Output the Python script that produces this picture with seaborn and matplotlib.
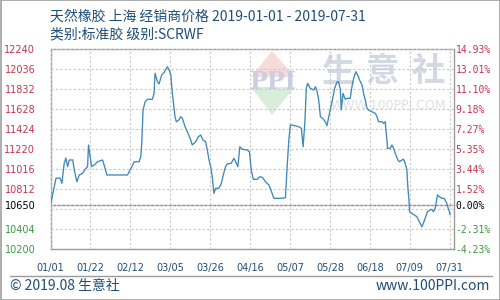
import matplotlib
matplotlib.use("Agg")
import matplotlib.pyplot as plt
from matplotlib.patches import Rectangle, Polygon
from matplotlib.lines import Line2D
import seaborn as sns
import pandas as pd

# ---- data ----
days = [0, 2.9, 5, 6, 7.2, 8.1, 9, 9.9, 11.7, 12.5, 13.9, 15.1, 16.9, 18.6, 19.5, 20, 20.9, 21.6, 23, 24.8,
        27.4, 28.2, 29.7, 30.9, 40.5, 41.9,
        42.8, 44, 46.6, 47.5, 48, 48.7, 49.8, 51, 53.6, 54.5, 55, 56.3, 57.1, 58.5, 59.7, 61.5, 62.4, 63.3, 64.1, 65.5,
        66.2, 67.5, 68.5, 69.4, 70.8, 72, 73.8, 74.6, 76.4, 77.8, 79, 80.2, 81.6,
        82.5, 83.4, 84.3, 85.1, 86, 86.9, 88.6, 89.9, 90.9, 92.1, 93, 95.1, 96.5, 97.4, 98.6, 99.6, 100.9, 103.5, 104.7, 105.6,
        106.7, 108.8, 110.1, 111.5, 113.1, 114.9, 116.1, 117.5, 121,
        123.6, 124.5, 125.4, 126.2, 127.1, 130.6, 132, 132.9, 133.8, 134.6, 135.3, 136.7, 138.5, 139.4, 140.3, 141.1, 142,
        143.2, 144.6, 145.5, 146.4, 148.1, 149.5, 150.8, 151.6, 152.5, 153, 153.9, 155.1, 156, 157.7, 158.6, 159.5, 160.7,
        161.6, 162.6, 163.9, 164.7, 165.6, 166.5, 167.3, 169.1, 170.9, 171.8, 172.6, 174.4, 175.2, 176.1, 177, 177.3,
        178.7, 179.6, 180.5, 181.7, 182.8, 183.6, 184.9, 185.7, 186.6, 187.5, 188, 188.6, 188.9, 190.1, 191.3, 192.8,
        193.6, 194.5, 195.4, 196.2, 197.1, 198.3, 199.7, 200.6, 201.5, 202.4, 203.6, 204.6, 205.9, 207.1, 208.5, 209,
        209.9, 210.2]
prices = [10650, 10921, 10924, 10870, 11074, 11128, 11040, 11108, 11108, 11006, 10886, 10955, 10972, 11023, 11040,
          11261, 11141, 11040, 11057, 11090, 11108, 11057, 10955, 10955, 10955, 11006,
          11040, 11090, 11090, 11141, 11278, 11618, 11702, 11727, 11727, 11788, 11992, 11906, 11883, 11975, 11998, 12059,
          12026, 11975, 11788, 11549, 11498, 11516, 11549, 11533, 11447, 11396, 11312, 11261, 11294, 11345, 11363, 11312, 11294,
          11210, 11108, 11040, 10937, 10768, 10819, 10819, 10870, 10955, 11040, 11067, 11074, 11125, 11090, 11040, 11243,
          11217, 11210, 11190, 11006, 10911, 10911, 10937, 10931, 10886, 10853, 10795, 10717, 10717,
          10723, 11040, 11312, 11465, 11465, 11447, 11431, 11243, 11482, 11839, 11890, 11839, 11822, 11855, 11804, 11720,
          11549, 11533, 11498, 11458, 11549, 11702, 11839, 11906, 11906, 11822, 11618, 11788, 11727, 11737, 11737, 11855,
          11941, 12008,
          11975, 11924, 11873, 11788, 11720, 11635, 11618, 11600, 11584, 11549, 11498, 11498, 11482, 11498, 11312, 11227,
          11227, 11261, 11227, 11159, 11108, 11090, 11108, 11115, 11074, 11006, 10836, 10700, 10580, 10564, 10547, 10529,
          10496, 10462, 10427, 10462, 10513, 10580, 10598, 10605, 10580, 10615, 10751, 10733, 10717, 10717, 10666, 10631,
          10580, 10547]

base_price = 10650
y_ticks = [12240, 12036, 11832, 11628, 11424, 11220, 11016, 10812, 10650, 10404, 10200]
pct_labels = ["14.93%", "13.01%", "11.10%", "9.18%", "7.27%", "5.35%", "3.44%", "1.52%", "0.00%", "-2.31%", "-4.23%"]
x_ticks = [0, 21, 42, 63, 84, 105, 126, 147, 168, 189, 210]
x_labels = ["01/01", "01/22", "02/12", "03/05", "03/26", "04/16", "05/07", "05/28", "06/18", "07/09", "07/31"]
title1 = "天然橡胶 上海 经销商价格 2019-01-01 - 2019-07-31"
title2 = "类别:标准胶 级别:SCRWF"
footer_left = "© 2019.08 生意社"
footer_right = "www.100PPI.com"

# ---- style ----
sns.set_theme(style="white")
plt.rcParams["font.family"] = ["DejaVu Sans", "Noto Sans CJK SC"]
CJK = ["Noto Sans CJK SC", "DejaVu Sans"]

RED = "#c8344c"
GREEN = "#3c9a3c"
BLUE_TXT = "#1e4d78"
LINE = "#4088b8"
GRID = "#c8c8c8"
FRAME = "#9a9a9a"

fig = plt.figure(figsize=(5, 3), dpi=100)
W, H = 500, 300
left, right, top, bottom = 50.5 / W, 454 / W, 1 - 49 / H, 1 - 249 / H
ax = fig.add_axes([left, bottom, right - left, top - bottom])

df = pd.DataFrame({"day": days, "price": prices})

ax.set_xlim(0, 212.3)
ax.set_ylim(10200, 12240)

# watermark (behind line)
tr = fig.transFigure
def fx(px): return px / W
def fy(py): return 1 - py / H
ax.add_patch(Polygon([(fx(251), fy(77)), (fx(272), fy(51)), (fx(295), fy(77))], closed=True,
                     transform=tr, facecolor="#f7dada", edgecolor="none", zorder=0.2))
ax.add_patch(Polygon([(fx(251), fy(87)), (fx(295), fy(87)), (fx(272), fy(115))], closed=True,
                     transform=tr, facecolor="#d9eeda", edgecolor="none", zorder=0.2))
ax.text(fx(273), fy(82), "PPI", transform=tr, ha="center", va="center", fontsize=17,
        fontweight="bold", color="#c9d0e2", family="DejaVu Serif", zorder=0.3)
for cx, ch in zip([339, 382, 428], "生意社"):
    ax.text(fx(cx), fy(72), ch, transform=tr, ha="center", va="center", fontsize=24,
            color="#d3d8e3", family=CJK, fontweight="bold", zorder=0.3)
ax.text(fx(388), fy(106), "WWW.100PPI.COM", transform=tr, ha="center", va="center", fontsize=9,
        color="#e0e0e0", zorder=0.3)

sns.lineplot(data=df, x="day", y="price", ax=ax, color=LINE, linewidth=0.95, zorder=3)

# grid
ax.set_yticks(y_ticks)
ax.set_yticks([10608], minor=True)
ax.set_xticks(x_ticks)
ax.set_xticklabels(x_labels)
ax.set_yticklabels([str(v) for v in y_ticks])
ax.grid(True, which="major", axis="both", color=GRID, linestyle=(0, (2, 2)), linewidth=0.8, zorder=1)
ax.grid(True, which="minor", axis="y", color=GRID, linestyle=(0, (2, 2)), linewidth=0.8, zorder=1)
ax.axhline(base_price, color="#8a8a8a", linewidth=1.0, zorder=2)
ax.set_axisbelow(False)
ax.set_xlabel("")
ax.set_ylabel("")

for s in ax.spines.values():
    s.set_color(FRAME)
    s.set_linewidth(1.0)

ax.tick_params(axis="both", which="both", length=0)
ax.tick_params(axis="y", pad=11, labelsize=7)
ax.tick_params(axis="x", pad=10, labelsize=7, labelcolor=BLUE_TXT)
for lab, v in zip(ax.get_yticklabels(), y_ticks):
    lab.set_color(RED if v > base_price else ("black" if v == base_price else GREEN))

ax2 = ax.twinx()
ax2.set_ylim(ax.get_ylim())
ax2.set_yticks(y_ticks)
ax2.set_yticklabels(pct_labels, family="DejaVu Sans Mono")
ax2.tick_params(axis="y", length=0, pad=1, labelsize=7)
for lab, v in zip(ax2.get_yticklabels(), y_ticks):
    lab.set_color(RED if v > base_price else ("black" if v == base_price else GREEN))
for s in ax2.spines.values():
    s.set_visible(False)

# titles
fig.text(fx(50), fy(17), title1, ha="left", va="center", fontsize=10, color=BLUE_TXT, family=CJK)
fig.text(fx(50), fy(34), title2, ha="left", va="center", fontsize=10, color=BLUE_TXT, family=CJK)

# footer
fig.add_artist(Line2D([fx(10), fx(492)], [fy(275.5), fy(275.5)], transform=tr, color=FRAME, linewidth=1.0))
fig.text(fx(10), fy(286), footer_left, ha="left", va="center", fontsize=10, color=BLUE_TXT, family=CJK)
fig.text(fx(490), fy(286), footer_right, ha="right", va="center", fontsize=10, color=BLUE_TXT, family=CJK)

# outer border
fig.add_artist(Rectangle((0.001, 0.0015), 0.998, 0.997, transform=tr, fill=False, edgecolor="#a0a0a0", linewidth=1.2))

fig.savefig("out.png", dpi=100)
